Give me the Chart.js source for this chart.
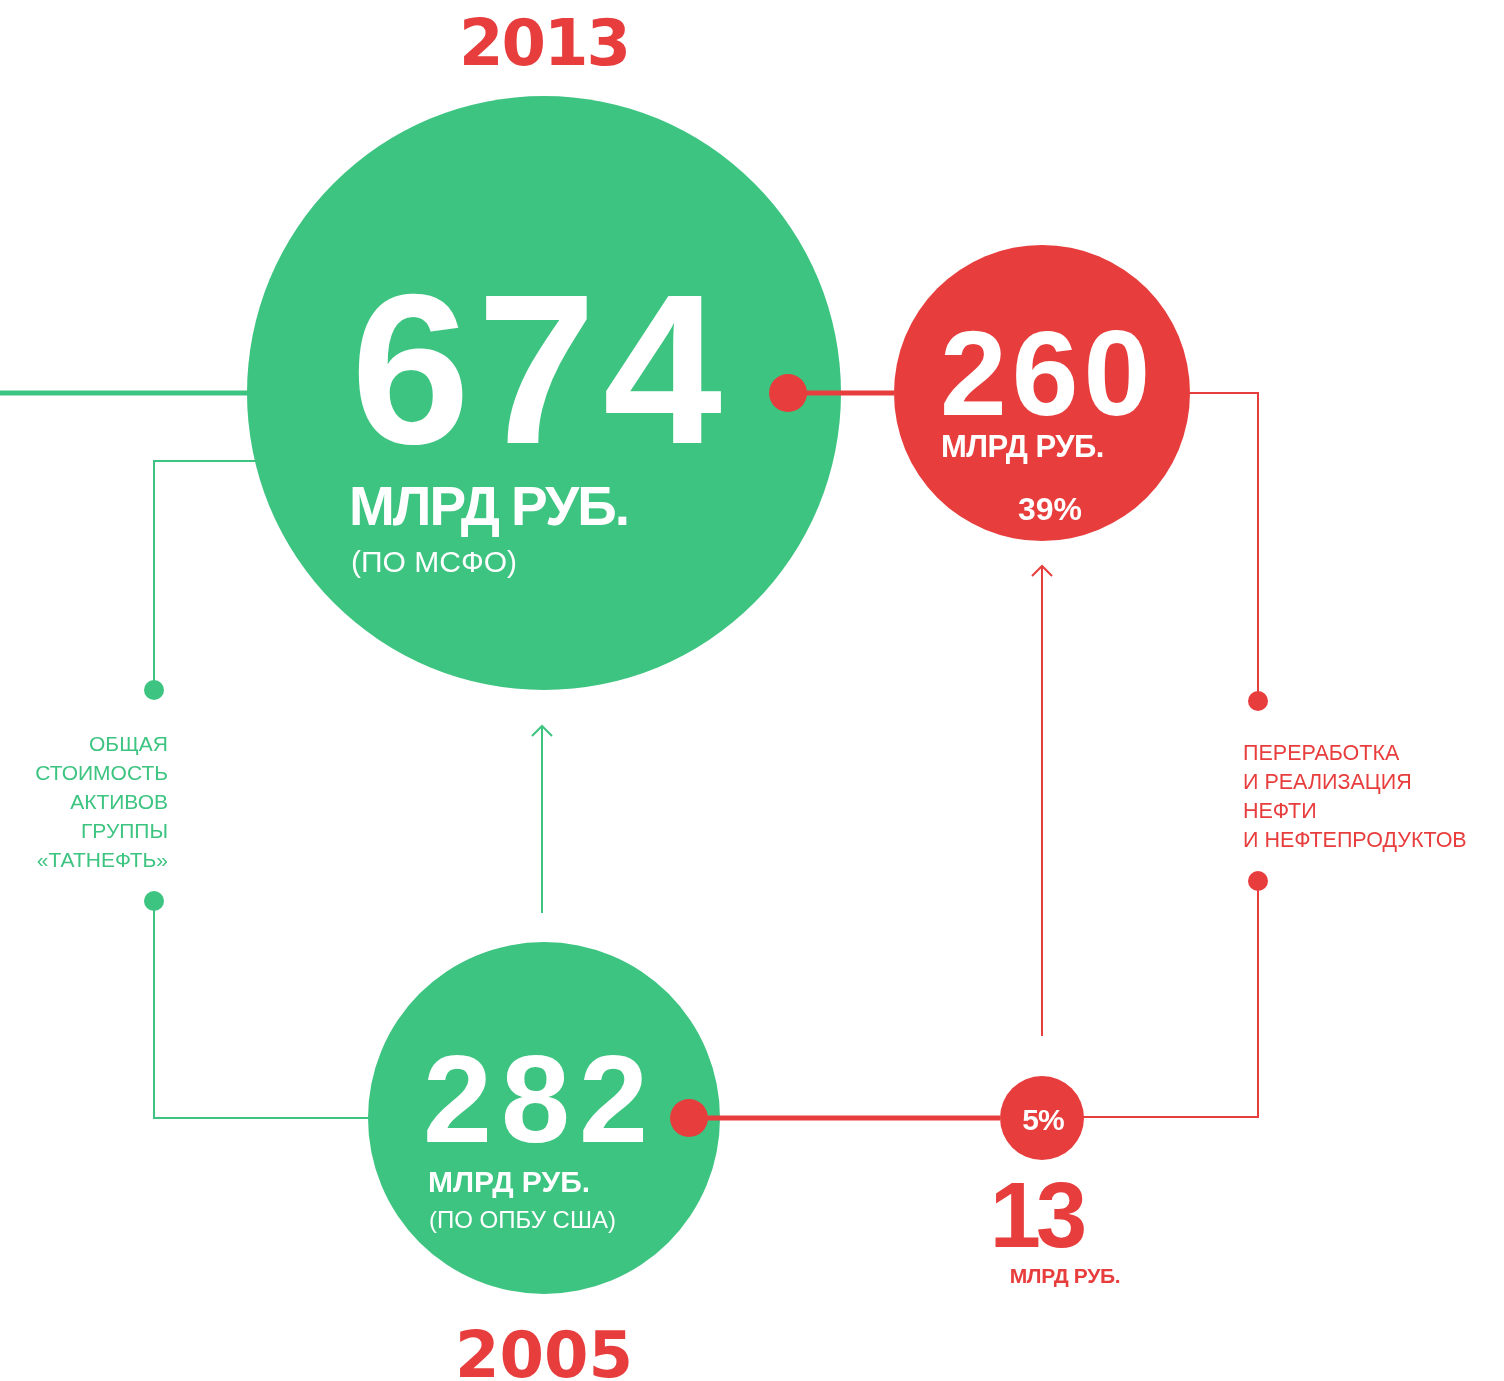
<!DOCTYPE html>
<html>
<head>
<meta charset="utf-8">
<script src="https://cdn.jsdelivr.net/npm/chart.js@4.4.1/dist/chart.umd.min.js"></script>
<style>
  html, body { margin: 0; padding: 0; background: #fff; }
  #wrap { width: 1504px; height: 1381px; }
</style>
</head>
<body>
<div id="wrap"><canvas id="chart_assets" width="1504" height="1381"></canvas></div>
<script>
// rows: 0 = 2013, 1 = 2005
const years = ['2013', '2005'];
const totalAssets = [674, 282];          // млрд руб.
const assetBasis = ['(ПО МСФО)', '(ПО ОПБУ США)'];
const refiningValues = [260, 13];        // млрд руб.
const refiningShares = [39, 5];          // % от общей стоимости
const assetLabel = ['ОБЩАЯ', 'СТОИМОСТЬ', 'АКТИВОВ', 'ГРУППЫ', '«ТАТНЕФТЬ»'];
const refiningLabel = ['ПЕРЕРАБОТКА', 'И РЕАЛИЗАЦИЯ', 'НЕФТИ', 'И НЕФТЕПРОДУКТОВ'];

const GREEN = '#3dc481';
const RED = '#e83d3d';
const SANS = '"Liberation Sans", Arial, sans-serif';

// bubble sizes are drawn as in the original layout (not area-proportional)
const assetRadius = [297, 176];
const refiningRadius = [148, 42];

function txt(ctx, s, x, y, font, color, align, spacing) {
    ctx.save();
    ctx.font = font;
    ctx.fillStyle = color;
    ctx.textAlign = align || 'left';
    ctx.textBaseline = 'alphabetic';
    ctx.letterSpacing = (spacing || 0) + 'px';
    ctx.fillText(s, x, y);
    ctx.restore();
}

function dot(ctx, x, y, r, color) {
    ctx.beginPath();
    ctx.arc(x, y, r, 0, Math.PI * 2);
    ctx.fillStyle = color;
    ctx.fill();
}

function path(ctx, pts, color, width) {
    ctx.beginPath();
    ctx.moveTo(pts[0][0], pts[0][1]);
    for (let i = 1; i < pts.length; i++) ctx.lineTo(pts[i][0], pts[i][1]);
    ctx.strokeStyle = color;
    ctx.lineWidth = width;
    ctx.lineCap = 'butt';
    ctx.lineJoin = 'miter';
    ctx.stroke();
}

function arrowUp(ctx, x, yFrom, yTo, color) {
    path(ctx, [[x, yFrom], [x, yTo]], color, 2);
    path(ctx, [[x - 10, yTo + 10], [x, yTo], [x + 10, yTo + 10]], color, 2);
}

function pts(chart) {
    const a = chart.getDatasetMeta(0).data;
    const b = chart.getDatasetMeta(1).data;
    const g = a.map(e => ({x: e.x, y: e.y, r: e.options.radius}));
    const r = b.map(e => ({x: e.x, y: e.y, r: e.options.radius}));
    return {g, r};
}

const infographic = {
    id: 'infographic',
    beforeDatasetsDraw(chart) {
        const ctx = chart.ctx;
        const {g, r} = pts(chart);
        const G0 = g[0], G1 = g[1], R0 = r[0], R1 = r[1];
        ctx.save();
        // thick line into 2013 bubble
        path(ctx, [[0, G0.y], [G0.x, G0.y]], GREEN, 5);
        // green bracket
        const lx = G0.x - 390;
        path(ctx, [[G0.x, G0.y + 68], [lx, G0.y + 68], [lx, G0.y + 297]], GREEN, 2);
        path(ctx, [[lx, G1.y - 217], [lx, G1.y], [G1.x, G1.y]], GREEN, 2);
        dot(ctx, lx, G0.y + 297, 10, GREEN);
        dot(ctx, lx, G1.y - 217, 10, GREEN);
        // red bracket
        const rx = R0.x + 216;
        path(ctx, [[R0.x, R0.y], [rx, R0.y], [rx, R0.y + 308]], RED, 2);
        path(ctx, [[rx, R1.y - 237], [rx, R1.y - 1], [R1.x, R1.y - 1]], RED, 2);
        dot(ctx, rx, R0.y + 308, 10, RED);
        dot(ctx, rx, R1.y - 237, 10, RED);
        // growth arrows
        arrowUp(ctx, G1.x - 2, G1.y - G1.r - 29, G0.y + G0.r + 36, GREEN);
        arrowUp(ctx, R1.x, R1.y - R1.r - 40, R0.y + R0.r + 25, RED);
        ctx.restore();
    },
    afterDatasetsDraw(chart) {
        const ctx = chart.ctx;
        const {g, r} = pts(chart);
        const G0 = g[0], G1 = g[1], R0 = r[0], R1 = r[1];
        ctx.save();
        // red connectors from asset bubbles to refining bubbles
        path(ctx, [[G0.x + 244, G0.y], [R0.x - R0.r, R0.y]], RED, 5);
        dot(ctx, G0.x + 244, G0.y, 19, RED);
        path(ctx, [[G1.x + 145, G1.y], [R1.x - R1.r, R1.y]], RED, 5);
        dot(ctx, G1.x + 145, G1.y, 19, RED);

        // years
        txt(ctx, years[0], G0.x, G0.y - 328, 'bold 64px "DejaVu Sans", sans-serif', RED, 'center', -2);
        txt(ctx, years[1], G0.x, G1.y + 259, 'bold 64px "DejaVu Sans", sans-serif', RED, 'center', 0);

        // 2013 total assets
        txt(ctx, String(totalAssets[0]), G0.x - 193, G0.y + 50, 'bold 214px ' + SANS, '#fff', 'left', 7);
        txt(ctx, 'МЛРД РУБ.', G0.x - 195, G0.y + 132, 'bold 55px ' + SANS, '#fff', 'left', -2);
        txt(ctx, assetBasis[0], G0.x - 193, G0.y + 179, '30px ' + SANS, '#fff', 'left', 0);

        // 2005 total assets
        txt(ctx, String(totalAssets[1]), G1.x - 121, G1.y + 24, 'bold 124px ' + SANS, '#fff', 'left', 9);
        txt(ctx, 'МЛРД РУБ.', G1.x - 116, G1.y + 74, 'bold 30px ' + SANS, '#fff', 'left', 0);
        txt(ctx, assetBasis[1], G1.x - 115, G1.y + 110, '24px ' + SANS, '#fff', 'left', 0);

        // 2013 refining
        txt(ctx, String(refiningValues[0]), R0.x - 102, R0.y + 22, 'bold 120px ' + SANS, '#fff', 'left', 5);
        txt(ctx, 'МЛРД РУБ.', R0.x - 101, R0.y + 64, 'bold 31px ' + SANS, '#fff', 'left', -0.5);
        txt(ctx, refiningShares[0] + '%', R0.x + 8, R0.y + 127, 'bold 32px ' + SANS, '#fff', 'center', 0);

        // 2005 refining
        txt(ctx, refiningShares[1] + '%', R1.x + 1, R1.y + 12, 'bold 30px ' + SANS, '#fff', 'center', -1);
        txt(ctx, String(refiningValues[1]), R1.x - 6, R1.y + 129, 'bold 92px ' + SANS, RED, 'center', -5);
        txt(ctx, 'МЛРД РУБ.', R1.x + 23, R1.y + 165, 'bold 21px ' + SANS, RED, 'center', -0.3);

        // side labels
        const lx = G0.x - 376;
        assetLabel.forEach((s, i) => txt(ctx, s, lx, G0.y + 358 + i * 29, '21px ' + SANS, GREEN, 'right', 0));
        const rx = R0.x + 201;
        refiningLabel.forEach((s, i) => txt(ctx, s, rx, R0.y + 367 + i * 29, '21.5px ' + SANS, RED, 'left', 0));
        ctx.restore();
    }
};

// grid: column 0 = total assets, column 1 = refining; one unit = 498 px across, 725 px down
const W = 1504, H = 1381;
const colPx = 498, rowPx = 725, originX = 544, originY = 393;

new Chart(
    document.getElementById('chart_assets'),
    {
        type: 'bubble',
        data: {
            datasets: [
                {
                    label: 'Общая стоимость активов группы «Татнефть»',
                    data: years.map((y, i) => ({x: 0, y: i, v: totalAssets[i]})),
                    backgroundColor: GREEN,
                    borderWidth: 0,
                    radius: ctx => assetRadius[ctx.dataIndex],
                    hoverRadius: 0,
                    clip: false
                },
                {
                    label: 'Переработка и реализация нефти и нефтепродуктов',
                    data: years.map((y, i) => ({x: 1, y: i, v: refiningValues[i]})),
                    backgroundColor: RED,
                    borderWidth: 0,
                    radius: ctx => refiningRadius[ctx.dataIndex],
                    hoverRadius: 0,
                    clip: false
                }
            ]
        },
        options: {
            responsive: false,
            animation: false,
            events: [],
            layout: { padding: 0, autoPadding: false },
            scales: {
                x: { type: 'linear', display: false, min: -originX / colPx, max: (W - originX) / colPx },
                y: { type: 'linear', display: false, reverse: true, min: -originY / rowPx, max: (H - originY) / rowPx }
            },
            plugins: {
                legend: { display: false },
                tooltip: { enabled: false }
            }
        },
        plugins: [infographic]
    }
);
</script>
</body>
</html>
